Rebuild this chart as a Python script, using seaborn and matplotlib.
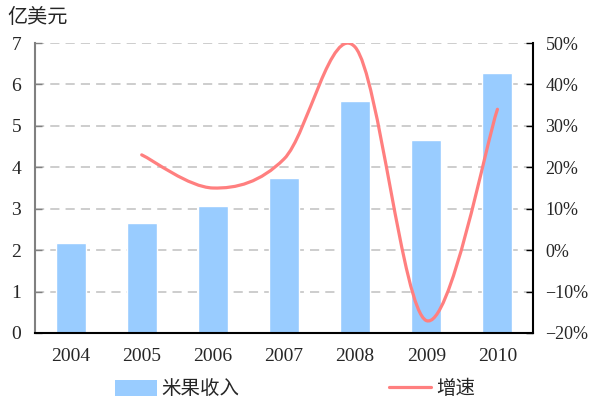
import seaborn as sns
import matplotlib.pyplot as plt
import pandas as pd
from matplotlib.path import Path
from matplotlib.patches import PathPatch, Patch
from matplotlib.lines import Line2D

years = ['2004', '2005', '2006', '2007', '2008', '2009', '2010']
revenue = [2.17, 2.66, 3.07, 3.74, 5.60, 4.66, 6.28]      # 亿美元
growth_years = ['2005', '2006', '2007', '2008', '2009', '2010']
growth = [23, 15, 22, 49, -17, 34]                         # %

bar_color = '#99CCFF'
line_color = '#FF7F7F'

sns.set_style('white')
plt.rcParams['font.family'] = ['Liberation Serif', 'Noto Sans CJK SC']
plt.rcParams['axes.unicode_minus'] = True

df = pd.DataFrame({'year': years, 'revenue': revenue})

fig = plt.figure(figsize=(5.9, 4.03), dpi=100)
ax = fig.add_axes([0.0593, 0.1737, 0.8441, 0.7196])

sns.barplot(x='year', y='revenue', data=df, color=bar_color, width=0.42,
            saturation=1, ax=ax, zorder=2)
ax.set_xlim(-0.5, 6.5)
ax.set_ylim(0, 7)
ax.set_yticks(range(0, 8))
ax.set_xlabel('')
ax.set_ylabel('')
ax.yaxis.grid(True, color='#C0C0C0', linestyle=(0, (6, 4)), linewidth=1.1, zorder=0)
ax.set_axisbelow(True)

ax.set_xticks([i + 0.5 for i in range(-1, 7)], minor=True)
ax.tick_params(axis='x', which='major', length=0, pad=11, labelsize=14)
ax.tick_params(axis='x', which='minor', direction='in', length=5, width=1, color='black')
ax.tick_params(axis='y', direction='in', length=5, width=1, pad=10, labelsize=14,
               left=True, color='#808080')

for s in ['top', 'right']:
    ax.spines[s].set_visible(False)
ax.spines['left'].set_color('#808080')
ax.spines['left'].set_linewidth(1.5)
ax.spines['bottom'].set_color('black')
ax.spines['bottom'].set_linewidth(1.5)

# growth rate line on right axis, smoothed like the original
ax2 = ax.twinx()
ax2.set_ylim(-20, 50)
ax2.set_yticks(range(-20, 51, 10))
ax2.set_yticklabels([f'{v}%'.replace('-', '\u2212') for v in range(-20, 51, 10)])
ax2.tick_params(axis='y', direction='in', length=5, width=1, pad=9, labelsize=13,
                right=True, color='black')
for s in ['top', 'left', 'bottom']:
    ax2.spines[s].set_visible(False)
ax2.spines['right'].set_color('black')
ax2.spines['right'].set_linewidth(1.5)

xs = [years.index(y) for y in growth_years]
pts = list(zip(xs, growth))
verts = [pts[0]]
codes = [Path.MOVETO]
for i in range(len(pts) - 1):
    p0 = pts[i - 1] if i > 0 else pts[i]
    p1 = pts[i]
    p2 = pts[i + 1]
    p3 = pts[i + 2] if i + 2 < len(pts) else pts[i + 1]
    c1 = (p1[0] + (p2[0] - p0[0]) / 6, p1[1] + (p2[1] - p0[1]) / 6)
    c2 = (p2[0] - (p3[0] - p1[0]) / 6, p2[1] - (p3[1] - p1[1]) / 6)
    verts += [c1, c2, p2]
    codes += [Path.CURVE4] * 3
ax2.add_patch(PathPatch(Path(verts, codes), facecolor='none', edgecolor=line_color,
                        linewidth=2.3, capstyle='round', joinstyle='round', zorder=3))

fig.text(0.012, 0.955, '亿美元', fontsize=14.5, ha='left', va='center')

handles = [Patch(facecolor=bar_color, edgecolor='none'),
           Line2D([], [], color=line_color, linewidth=2.3)]
fig.legend(handles, ['米果收入', '增速'], loc='center', bbox_to_anchor=(0.5, 0.035),
           ncol=2, frameon=False, fontsize=14, handlelength=2.15, handleheight=0.9,
           handletextpad=0.25, columnspacing=7.7)

fig.savefig('out.png', dpi=100)
